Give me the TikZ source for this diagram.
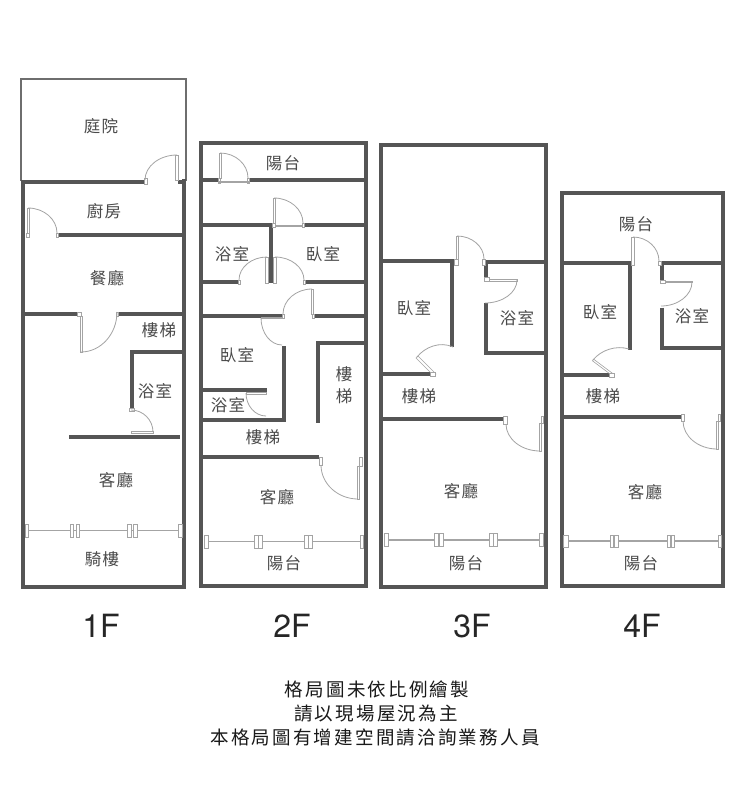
\documentclass[tikz,border=0pt]{standalone}
\usepackage{fontspec}
\setmainfont{TeX Gyre Heros}
\newfontfamily\roomfont[LetterSpace=9]{Noto Sans CJK TC}
\newfontfamily\notefont[LetterSpace=12]{Noto Sans CJK TC}

\definecolor{wallgray}{HTML}{555555}
\definecolor{leafgray}{HTML}{A4A4A4}
\definecolor{textgray}{HTML}{4A4A4A}

\tikzset{
  wall/.style={draw=wallgray, line width=4pt},
  thinwall/.style={draw=wallgray!85, line width=1.8pt},
  leaf/.style={draw=leafgray, fill=white, line width=.6pt},
  swingline/.style={draw=leafgray, line width=.8pt},
  pane/.style={draw=leafgray, line width=1.2pt},
  room/.style={font=\roomfont\fontsize{16.5}{22}\selectfont, text=textgray, align=center, inner sep=0pt, yshift=-.6pt},
  floorname/.style={font=\fontsize{32}{32}\selectfont, text=black!85, inner sep=0pt},
  note/.style={font=\notefont\fontsize{18.5}{18.5}\selectfont, text=black!90, inner sep=0pt}
}

% door swing, starts level at the leaf tip and ends upright at the jamb
\newcommand{\swing}[4]{
  \pgfmathsetmacro\ctrlx{#1+.55*(#3-#1)}
  \pgfmathsetmacro\ctrly{#4-.55*(#4-#2)}
  \draw[swingline] (#1,#2) .. controls (\ctrlx,#2) and (#3,\ctrly) .. (#3,#4);
}

\begin{document}
\begin{tikzpicture}[x=1pt,y=-1pt]
\useasboundingbox (0,0) rectangle (753,800);
\fill[white] (0,0) rectangle (753,800);

%1F outer walls
\draw[thinwall] (21,181) -- (21,79) -- (186,79) -- (186,181);
\draw[wall] (23,181) -- (23,587) -- (184,587) -- (184,179);
\draw[wall] (21,181.5) -- (144,181.5);
\draw[wall] (178,181.5) -- (186,181.5);

%1F inner walls
\draw[wall] (58,235) -- (182,235);
\draw[wall] (23,314) -- (77,314);
\draw[wall] (118,314) -- (182,314);
\draw[wall] (130,352) -- (182,352);
\draw[wall] (132,352) -- (132,410);
\draw[wall] (69,437) -- (180,437);

%1F doors
\draw[leaf] (144,178) rectangle (147,184);
\draw[leaf] (175.5,155) rectangle (178,180);
\swing{177}{155}{145}{180}
\draw[leaf] (27,208) rectangle (29.5,233);
\draw[leaf] (26,233) rectangle (29,237);
\draw[leaf] (56,233) rectangle (58,237);
\swing{28}{208}{57}{233}
\draw[leaf] (77,312) rectangle (81,316);
\draw[leaf] (80,316) rectangle (82,352);
\draw[leaf] (116,312) rectangle (118,316);
\swing{81}{352}{117}{312}
\draw[leaf] (129,408) rectangle (134,411);
\draw[leaf] (131,431) rectangle (153,433);
\swing{131}{410}{153}{432}

%1F window
\draw[pane] (26,530.5) -- (180,530.5);
\foreach \a/\b in {25/28,70/73,76/79,127/131,133/137,178/182}
  \draw[leaf] (\a,524) rectangle (\b,537);

%1F labels
\node[room] (yard) at (101,126) {庭院};
\node[room] (kitchen) at (104,211) {廚房};
\node[room] (dining) at (107,278) {餐廳};
\node[room] (stairsa) at (159,330) {樓梯};
\node[room] (batha) at (155,391) {浴室};
\node[room] (livinga) at (116,480) {客廳};
\node[room] (arcade) at (102,559) {騎樓};
\node[floorname] (floora) at (101,626) {1F};

%2F outer walls
\draw[wall] (201,142.5) rectangle (365.5,585.5);

%2F inner walls
\draw[wall] (201,180) -- (218,180);
\draw[wall] (249,180) -- (365,180);
\draw[wall] (201,225) -- (272,225);
\draw[wall] (304,225) -- (365,225);
\draw[wall] (271,225) -- (271,283);
\draw[wall] (201,282) -- (238,282);
\draw[wall] (305,282) -- (365,282);
\draw[wall] (201,316) -- (282,316);
\draw[wall] (314,316) -- (365,316);
\draw[wall] (284,346) -- (284,422);
\draw[wall] (316,343) -- (365,343);
\draw[wall] (318,343) -- (318,423);
\draw[wall] (201,390) -- (267,390);
\draw[wall] (201,420) -- (286,420);
\draw[wall] (201,457) -- (319,457);

%2F doors
\draw[leaf] (218,178) rectangle (220,183);
\draw[leaf] (247,178) rectangle (249,183);
\draw[leaf] (219,153) rectangle (221,178);
\draw[leaf] (219,181) rectangle (248,182.5);
\swing{220}{153}{248}{178}
\draw[leaf] (272,223) rectangle (275,227);
\draw[leaf] (273,198) rectangle (275,223);
\draw[leaf] (275,225) rectangle (302,226.5);
\draw[leaf] (302,223) rectangle (304,227);
\swing{274}{198}{303}{223}
\draw[leaf] (238,280) rectangle (240,284);
\draw[leaf] (265.5,257) rectangle (268.5,283);
\swing{267}{257}{239}{280}
\draw[leaf] (273.5,257) rectangle (276.5,283);
\draw[leaf] (303,280) rectangle (305,284);
\swing{275}{257}{304}{280}
\draw[leaf] (282,314) rectangle (284,318);
\draw[leaf] (311,289) rectangle (313,314);
\draw[leaf] (312,314) rectangle (314,318);
\swing{312}{289}{283}{314}
\draw[leaf] (261,317) rectangle (282,318.5);
\swing{282}{345}{261}{318}
\draw[leaf] (246,392.5) rectangle (266,394);
\swing{266}{416}{246}{393}
\draw[leaf] (319,457) rectangle (322,465);
\draw[leaf] (357,466) rectangle (359.5,499);
\draw[leaf] (359.5,457) rectangle (362,466);
\swing{358}{499}{321}{465}

%2F window
\draw[pane] (206,541.5) -- (361,541.5);
\foreach \a/\b in {204/208,254/258,258.5/262,304/308,308.5/312,360/363.5}
  \draw[leaf] (\a,535) rectangle (\b,548);

%2F labels
\node[room] (balconyb) at (283,163) {陽台};
\node[room] (bathb) at (232,254) {浴室};
\node[room] (bedb) at (323,254) {臥室};
\node[room] (bedc) at (237,355) {臥室};
\node[room] (bathc) at (228,405) {浴室};
\node[room] (stairsb) at (263,437) {樓梯};
\node[room] (stairsc) at (344,385) {樓\\梯};
\node[room] (livingb) at (277,497) {客廳};
\node[room] (balconyc) at (284,563) {陽台};
\node[floorname] (floorb) at (292,626) {2F};

%3F outer walls
\draw[wall] (381,145) rectangle (546,586.5);

%3F inner walls
\draw[wall] (381,261) -- (454,261);
\draw[wall] (452,261) -- (452,347);
\draw[wall] (485,262) -- (546,262);
\draw[wall] (486,262) -- (486,277);
\draw[wall] (486,303) -- (486,353);
\draw[wall] (484,353) -- (546,353);
\draw[wall] (381,374) -- (430,374);
\draw[wall] (381,419) -- (503,419);

%3F doors
\draw[leaf] (454,259) rectangle (458,265);
\draw[leaf] (456,236) rectangle (458.5,259);
\draw[leaf] (482,259) rectangle (485,265);
\swing{457}{236}{484}{259}
\draw[leaf] (484,277) rectangle (489,281);
\draw[leaf] (489,279.5) rectangle (517,281);
\swing{485}{303}{517}{280}
\draw[leaf] (416,358) -- (418,356) -- (436,374) -- (434,376) -- cycle;
\draw[leaf] (430,372) rectangle (435,376.5);
\draw[swingline] (417,357) .. controls (425,347) and (440,341) .. (453,347);
\draw[leaf] (503,416) rectangle (507,424);
\draw[leaf] (539,423) rectangle (541.5,451);
\draw[leaf] (541,416) rectangle (543.5,423);
\swing{540}{451}{506}{424}

%3F window
\draw[pane] (388,540) -- (540,540);
\foreach \a/\b in {384/388,434/438,439/443,489/493,493.5/497,539/543}
  \draw[leaf] (\a,533.5) rectangle (\b,546.5);

%3F labels
\node[room] (bedd) at (414,308) {臥室};
\node[room] (bathd) at (517,318) {浴室};
\node[room] (stairsd) at (419,396) {樓梯};
\node[room] (livingc) at (461,491) {客廳};
\node[room] (balconyd) at (466,563) {陽台};
\node[floorname] (floorc) at (472,626) {3F};

%4F outer walls
\draw[wall] (561.5,193) rectangle (723,586);

%4F inner walls
\draw[wall] (561,263) -- (631,263);
\draw[wall] (630,263) -- (630,350);
\draw[wall] (660,263) -- (723,263);
\draw[wall] (661.5,263) -- (661.5,280);
\draw[wall] (661.5,307.5) -- (661.5,348);
\draw[wall] (660,348) -- (723,348);
\draw[wall] (561,375) -- (610,375);
\draw[wall] (561,416.5) -- (682,416.5);

%4F doors
\draw[leaf] (631,237) rectangle (634,265);
\draw[leaf] (658,261) rectangle (661,265);
\swing{633}{237}{659}{261}
\draw[leaf] (660,280) rectangle (665,283.5);
\draw[leaf] (665,281) rectangle (692,282.5);
\swing{661}{306}{692}{282}
\draw[leaf] (593.6,359.2) -- (592.4,360.8) -- (612.4,375.8) -- (613.6,374.2) -- cycle;
\draw[leaf] (609,373) rectangle (614,377);
\draw[swingline] (593,360) .. controls (601,350) and (616,345) .. (629,349);
\draw[leaf] (681.5,414) rectangle (684.5,421);
\draw[leaf] (716,421.5) rectangle (718.5,449);
\draw[leaf] (718,414) rectangle (720.5,421.5);
\swing{717}{449}{683}{421}

%4F window
\draw[pane] (568,541) -- (718,541);
\foreach \a/\b in {563/568,610/613.5,614.5/618,667/670,671/674,718/721}
  \draw[leaf] (\a,535) rectangle (\b,547.5);

%4F labels
\node[room] (balconye) at (636,224) {陽台};
\node[room] (bede) at (600,312) {臥室};
\node[room] (bathe) at (692,316) {浴室};
\node[room] (stairse) at (603,396) {樓梯};
\node[room] (livingd) at (645,492) {客廳};
\node[room] (balconyf) at (641,563) {陽台};
\node[floorname] (floord) at (642,626) {4F};

%notes under the plans
\node[note] (notea) at (377,689) {格局圖未依比例繪製};
\node[note] (noteb) at (376,714) {請以現場屋況為主};
\node[note] (notec) at (375,738) {本格局圖有增建空間請洽詢業務人員};

\end{tikzpicture}
\end{document}
